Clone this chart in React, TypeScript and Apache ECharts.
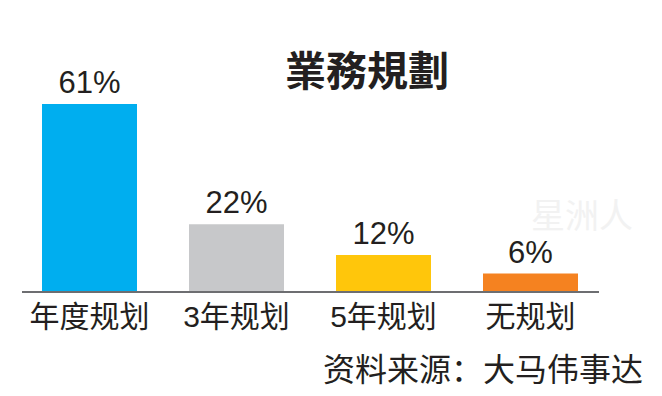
import React, { useEffect, useRef } from "react";
import * as echarts from "echarts";

const categories = ["年度规划", "3年规划", "5年规划", "无规划"];
const values = [61, 22, 12, 6];
const barColors = ["#00AEEF", "#C7C8CA", "#FFC60B", "#F58220"];
const titleText = "業務規劃";
const sourceText = "资料来源：大马伟事达";
const watermarkText = "星洲人";

export default function App() {
  const ref = useRef<HTMLDivElement>(null);
  useEffect(() => {
    if (!ref.current) return;
    const chart = echarts.init(ref.current, null, { renderer: "svg" });
    chart.setOption({
      animation: false,
      backgroundColor: "#ffffff",
      grid: { left: 16, right: 58, top: 104, bottom: 104, containLabel: false },
      xAxis: {
        type: "category",
        data: categories,
        axisLine: { show: false },
        axisTick: { show: false },
        axisLabel: {
          interval: 0,
          hideOverlap: false,
          margin: 9,
          fontSize: 30,
          color: "#231F20",
          fontFamily: "Liberation Sans, Noto Sans CJK SC",
        },
      },
      yAxis: {
        type: "value",
        min: 0,
        max: 61,
        show: false,
        splitLine: { show: false },
      },
      graphic: [
        {
          type: "line",
          shape: { x1: 22, y1: 292, x2: 599, y2: 292 },
          style: { stroke: "#6D6E71", lineWidth: 2 },
          z: 10,
        },
        {
          type: "text",
          x: 367,
          y: 68,
          style: {
            text: titleText,
            fontSize: 41,
            fontWeight: "bold",
            fontFamily: "Noto Sans CJK TC",
            fill: "#231F20",
            textAlign: "center",
            textVerticalAlign: "middle",
          },
        },
        {
          type: "text",
          x: 643,
          y: 367,
          style: {
            text: sourceText,
            fontSize: 32,
            fontFamily: "Noto Sans CJK SC",
            fill: "#231F20",
            textAlign: "right",
            textVerticalAlign: "middle",
          },
        },
        {
          type: "text",
          x: 582,
          y: 213,
          style: {
            text: watermarkText,
            fontSize: 34,
            fontFamily: "Noto Sans CJK SC",
            fill: "#F2F2F2",
            textAlign: "center",
            textVerticalAlign: "middle",
          },
          z: -1,
        },
      ],
      series: [
        {
          type: "bar",
          barWidth: 95,
          data: values.map((v, i) => ({ value: v, itemStyle: { color: barColors[i] } })),
          label: {
            show: true,
            position: "top",
            distance: 6,
            formatter: "{c}%",
            fontSize: 31,
            color: "#231F20",
            fontFamily: "Liberation Sans",
          },
        },
      ],
    });
    return () => chart.dispose();
  }, []);
  return (
    <div
      ref={ref}
      style={{ position: "fixed", left: 0, top: 0, width: 662, height: 396 }}
    />
  );
}
